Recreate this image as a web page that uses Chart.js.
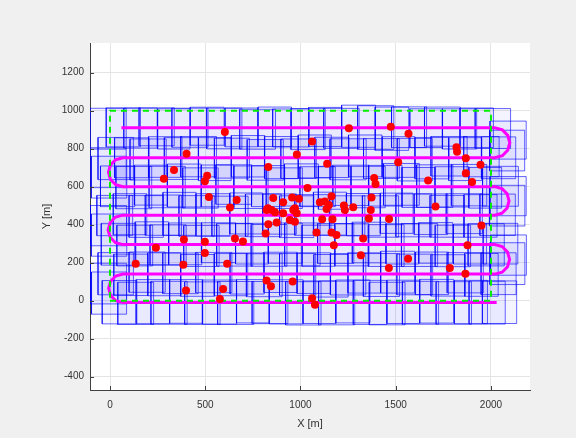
<!DOCTYPE html>
<html><head><meta charset="utf-8">
<script src="https://cdn.jsdelivr.net/npm/chart.js@4.4.0/dist/chart.umd.min.js"></script>
<style>html,body{margin:0;padding:0;background:#f0f0f0;}#wrap{width:576px;height:438px;}</style>
</head><body><div id="wrap"><canvas id="c" width="576" height="438"></canvas></div>
<script>
// ---- tick labels ----
const xTicks = [0, 500, 1000, 1500, 2000];
const yTicks = [-400, -200, 0, 200, 400, 600, 800, 1000, 1200];

// ---- planned lawnmower path (magenta) ----
const pathX = [60, 2020,2060,2088,2099,2088,2060,2020, 68,30,2,-8,2,30,68, 2020,2058,2085,2095,2085,2058,2020, 68,29,1,-10,1,29,68, 2020,2059,2087,2098,2087,2059,2020, 68,30,3,-7,3,30,68, 2030];
const pathY = [910, 910,899,870,831,792,763,752, 752,742,714,676,638,610,600, 600,590,563,525,488,460,450, 450,440,411,372,334,305,295, 295,285,256,217,179,150,140, 140,130,102,65,28,0,-10, -10];

// ---- survey area boundary (green dashed) ----
const areaX = [0, 2000, 2000, 0, 0];
const areaY = [0, 0, 1000, 1000, 0];

// ---- detected objects (red) ----
const dotX = [603,402,336,283,510,498,519,665,630,1254,1061,981,1140,831,1387,1394,1037,1373,857,956,992,1163,1128,1102,1149,1228,1277,1369,829,848,971,909,1474,1567,1819,1822,1868,1945,1513,1868,1901,1670,1709,388,498,656,698,241,498,135,385,615,399,594,577,822,866,909,962,980,971,944,875,831,817,1114,1168,1084,1163,1189,1175,1329,1359,1317,822,845,959,1061,1076,1465,1950,1877,1565,1464,1784,1866,1137,1233];
const dotY = [888,773,688,642,658,628,546,530,490,907,838,769,720,704,646,614,593,543,540,543,536,549,522,518,504,501,492,477,486,477,486,518,915,879,808,784,750,715,729,671,624,633,495,322,310,327,311,278,251,195,189,195,53,62,9,477,465,460,477,460,416,424,412,402,354,428,428,359,359,345,292,327,433,239,106,76,101,13,-21,430,395,292,221,172,172,142,483,477];

// ---- camera footprints [cx, cy, w, h] per pass ----
const footPass6 = [[-10,905,190,215],[70,912,180,205],[160,908,175,210],[245,915,185,200],[335,904,170,212],[420,910,190,206],[510,918,178,200],[600,906,185,214],[690,912,172,204],[775,902,188,210],[865,915,176,208],[950,909,192,200],[1040,903,180,216],[1130,914,174,206],[1215,907,186,210],[1305,918,178,222],[1395,911,190,230],[1480,905,176,228],[1570,913,184,214],[1660,908,172,204],[1745,916,188,206],[1835,904,180,212],[1925,910,176,208],[2010,906,186,210],[2090,845,190,200],[2085,790,184,214]];
const footPass5 = [[2040,752,180,220],[1950,758,186,212],[1865,745,174,226],[1780,760,190,208],[1690,750,178,218],[1600,742,184,224],[1515,756,172,214],[1425,748,188,210],[1340,762,176,220],[1250,744,190,216],[1165,754,180,212],[1075,759,174,226],[990,747,186,208],[900,753,178,222],[815,741,190,214],[725,760,176,218],[640,750,184,210],[550,745,172,226],[465,758,188,212],[375,748,180,220],[290,756,176,214],[200,743,190,216],[115,752,182,210],[30,748,186,222],[-10,700,190,210],[-5,650,186,220]];
const footPass4 = [[40,602,180,214],[125,595,188,222],[215,608,174,210],[300,598,190,218],[390,606,178,226],[475,593,186,212],[565,604,172,220],[650,611,188,208],[740,597,180,224],[830,603,174,216],[915,592,190,214],[1005,609,178,222],[1090,600,186,210],[1180,594,172,226],[1265,607,190,212],[1355,598,180,218],[1445,605,176,214],[1530,612,188,220],[1620,596,174,210],[1705,603,190,224],[1795,599,178,212],[1885,608,186,218],[1970,594,172,214],[2050,602,188,210],[2090,550,190,206],[2085,500,186,214]];
const footPass3 = [[2035,452,186,218],[1945,446,174,224],[1860,458,190,210],[1770,444,180,220],[1685,455,176,214],[1595,449,188,226],[1505,460,172,212],[1420,443,190,218],[1330,453,178,222],[1245,447,186,210],[1155,458,174,226],[1065,451,190,214],[980,442,180,220],[890,456,176,212],[805,449,188,224],[715,459,172,216],[630,445,190,210],[540,452,178,222],[455,446,186,214],[365,457,174,226],[280,450,190,212],[190,443,180,220],[105,455,176,216],[25,448,188,212],[-8,395,190,212],[-5,345,186,222]];
const footPass2 = [[45,297,182,220],[130,290,188,214],[220,302,176,226],[305,293,190,212],[395,299,174,220],[480,288,186,216],[570,305,180,210],[655,294,190,224],[745,300,172,214],[835,291,188,220],[920,303,178,212],[1010,296,186,226],[1095,289,174,216],[1185,301,190,210],[1270,294,180,222],[1360,306,176,214],[1450,290,188,220],[1535,299,172,212],[1625,293,190,226],[1710,304,178,214],[1800,288,186,218],[1890,298,174,210],[1975,294,190,222],[2050,300,182,214],[2092,240,188,212],[2086,195,184,220]];
const footPass1 = [[2040,142,184,220],[1950,136,176,226],[1865,147,190,212],[1775,133,180,218],[1690,144,174,224],[1600,138,188,214],[1510,150,178,220],[1425,135,190,226],[1335,146,172,212],[1250,139,186,218],[1160,131,180,224],[1070,145,176,214],[985,138,190,220],[895,149,174,212],[810,134,188,226],[720,143,180,216],[635,137,176,222],[545,148,190,212],[460,133,178,220],[370,144,186,214],[285,139,174,226],[195,150,190,212],[110,136,180,218],[30,142,186,222],[-8,90,190,214],[-5,40,184,222]];
const footPass0 = [[50,-8,182,228],[135,-14,188,222],[225,-5,176,232],[310,-11,190,226],[400,-4,174,230],[485,-13,186,224],[575,-7,180,232],[660,-12,190,226],[750,-3,172,228],[840,-10,188,222],[925,-6,178,232],[1015,-14,186,228],[1100,-8,174,224],[1190,-12,190,230],[1275,-4,180,226],[1365,-9,176,232],[1455,-15,188,224],[1540,-6,172,228],[1630,-11,190,226],[1715,-3,178,230],[1805,-12,186,224],[1895,-7,174,228],[1980,-10,190,226],[2045,-8,180,224]];

const toPts = (xs, ys) => xs.map((x, i) => ({x: x, y: ys[i]}));
const rectDs = [];
[footPass6, footPass5, footPass4, footPass3, footPass2, footPass1, footPass0].forEach(pass => {
  pass.forEach(([cx, cy, w, h]) => {
    const l = cx - w / 2, r = cx + w / 2, b = cy - h / 2, t = cy + h / 2;
    rectDs.push({
      data: [{x:l,y:b},{x:r,y:b},{x:r,y:t},{x:l,y:t},{x:l,y:b}],
      showLine: true, pointRadius: 0, borderWidth: 1,
      borderColor: 'rgba(0,0,255,0.6)', backgroundColor: 'rgba(0,0,255,0.045)',
      fill: 'shape', order: 5, tension: 0
    });
  });
});

const datasets = [
  {data: toPts(dotX, dotY), pointRadius: 4, pointBackgroundColor: '#ff0000', pointBorderWidth: 0, showLine: false, order: 0},
  {data: toPts(areaX, areaY), showLine: true, pointRadius: 0, borderColor: '#00ee00', borderWidth: 2, borderDash: [6, 5], fill: false, order: 1},
  {data: toPts(pathX, pathY), showLine: true, pointRadius: 0, borderColor: '#ff00ff', borderWidth: 3, fill: false, order: 2, tension: 0}
].concat(rectDs);

const bgPlugin = {id: 'bg', beforeDraw(chart) {
  const {ctx, chartArea: a} = chart; ctx.save(); ctx.fillStyle = '#ffffff';
  ctx.fillRect(a.left, a.top, a.right - a.left, a.bottom - a.top); ctx.restore();
}};
const inTicks = {id: 'inTicks', afterDatasetsDraw(chart) {
  const {ctx, chartArea: a, scales: {x, y}} = chart;
  ctx.save(); ctx.strokeStyle = '#404040'; ctx.lineWidth = 1; ctx.beginPath();
  xTicks.forEach(v => { const p = Math.round(x.getPixelForValue(v)) + 0.5; ctx.moveTo(p, a.bottom); ctx.lineTo(p, a.bottom - 4); });
  yTicks.forEach(v => { const p = Math.round(y.getPixelForValue(v)) + 0.5; ctx.moveTo(a.left, p); ctx.lineTo(a.left + 4, p); });
  ctx.stroke(); ctx.restore();
}};

const font = {family: "'Liberation Sans', Arial, Helvetica, sans-serif", size: 10};
new Chart(document.getElementById('c'), {
  type: 'scatter',
  data: {datasets: datasets},
  options: {
    responsive: false, animation: false, events: [],
    layout: {padding: {top: 43, right: 46, left: 0, bottom: 0}},
    plugins: {legend: {display: false}, tooltip: {enabled: false}},
    scales: {
      x: {
        type: 'linear', min: -105, max: 2205,
        afterBuildTicks: s => { s.ticks = xTicks.map(v => ({value: v})); },
        afterFit: s => { s.height = 48; },
        ticks: {font: font, color: '#333333', padding: 9, maxRotation: 0, callback: v => String(v)},
        grid: {color: '#e4e4e4', drawTicks: false},
        border: {display: true, color: '#404040', width: 1},
        title: {display: true, text: 'X [m]', font: {family: font.family, size: 11}, color: '#333333', padding: {top: 0, bottom: 7}}
      },
      y: {
        type: 'linear', min: -470, max: 1356,
        afterBuildTicks: s => { s.ticks = yTicks.map(v => ({value: v})); },
        afterFit: s => { s.width = 90; },
        ticks: {font: font, color: '#333333', padding: 6, callback: v => String(v)},
        grid: {color: '#e4e4e4', drawTicks: false},
        border: {display: true, color: '#404040', width: 1},
        title: {display: true, text: 'Y [m]', font: {family: font.family, size: 11}, color: '#333333', padding: {top: 40, bottom: 0}}
      }
    }
  },
  plugins: [bgPlugin, inTicks]
});
</script></body></html>
